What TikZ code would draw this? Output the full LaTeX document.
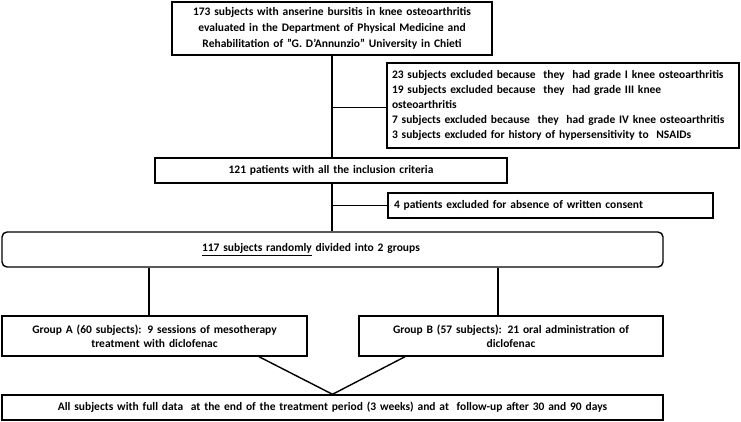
\documentclass[tikz,border=0pt]{standalone}
\usepackage{fontspec}
\setmainfont{Carlito}
\usetikzlibrary{calc}
\begin{document}
\begin{tikzpicture}[x=1pt,y=-1pt,
  box/.style={draw, line width=1.4pt, inner xsep=6pt, inner ysep=0pt,
    font=\bfseries\fontsize{11.5}{15}\selectfont},
  conn/.style={line width=1.4pt}]
\useasboundingbox (0,0) rectangle (741,422);
\node[box, minimum width=320pt, minimum height=53pt, text width=308pt, align=center,
  font=\bfseries\fontsize{11.5}{16}\selectfont] (b1) at (332,28.5)
  {173 subjects with anserine bursitis in knee osteoarthritis\\ evaluated in the Department of Physical Medicine and\\ Rehabilitation of "G. D'Annunzio" University in Chieti};
\node[box, minimum width=352pt, minimum height=85pt, text width=342pt, inner xsep=5pt, align=left] (ex) at (563,105.5)
  {23 subjects excluded because\ \ they\ \ had grade I knee osteoarthritis\\
   19 subjects excluded because\ \ they\ \ had grade III knee\\
   osteoarthritis\\
   7 subjects excluded because\ \ they\ \ had grade IV knee osteoarthritis\\
   3 subjects excluded for history of hypersensitivity to\ \ NSAIDs};
\node[box, minimum width=352pt, minimum height=25pt, text width=340pt, align=center] (p121) at (331,170.5)
  {121 patients with all the inclusion criteria};
\node[box, minimum width=325pt, minimum height=25pt, text width=313pt, align=left] (p4) at (550.5,205.5)
  {4 patients excluded for absence of written consent};
\node[box, rounded corners=5pt, minimum width=661pt, minimum height=35pt, text width=649pt, align=left] (r117) at (332.5,249.5)
  {\hspace*{194pt}\underline{117 subjects randomly} divided into 2 groups};
\node[box, minimum width=305pt, minimum height=40pt, text width=293pt, align=center,
  font=\bfseries\fontsize{11.5}{14}\selectfont] (ga) at (154.5,336)
  {Group A (60 subjects): 9 sessions of mesotherapy\\ treatment with diclofenac};
\node[box, minimum width=304pt, minimum height=40pt, text width=292pt, align=center,
  font=\bfseries\fontsize{11.5}{14}\selectfont] (gb) at (511,336)
  {Group B (57 subjects): 21 oral administration of\\ diclofenac};
\node[box, minimum width=661pt, minimum height=25pt, text width=649pt, align=center] (fin) at (332.5,407.5)
  {All subjects with full data\ \ at the end of the treatment period (3 weeks) and at\ \ follow-up after 30 and 90 days};
% connectors
\draw[conn] (b1.south) -- (b1.south |- p121.north);
\coordinate (j1) at ($(b1.south)+(0,52)$);
\draw[conn] (j1) -- (j1 -| ex.west);
\coordinate (t121) at (p121.south -| b1.south);
\draw[conn] (t121) -- (t121 |- r117.north);
\coordinate (j2) at (t121 |- p4.west);
\draw[conn] (j2) -- (p4.west);
\coordinate (ta) at ($(ga.north)+(-5.5,0)$);
\draw[conn] (ta) -- (ta |- r117.south);
\coordinate (tb) at ($(gb.north)+(-13,0)$);
\draw[conn] (tb) -- (tb |- r117.south);
\draw[conn] ($(ga.south)+(104.5,0)$) -- (fin.north);
\draw[conn] ($(gb.south)+(-106,0)$) -- (fin.north);
\end{tikzpicture}
\end{document}
